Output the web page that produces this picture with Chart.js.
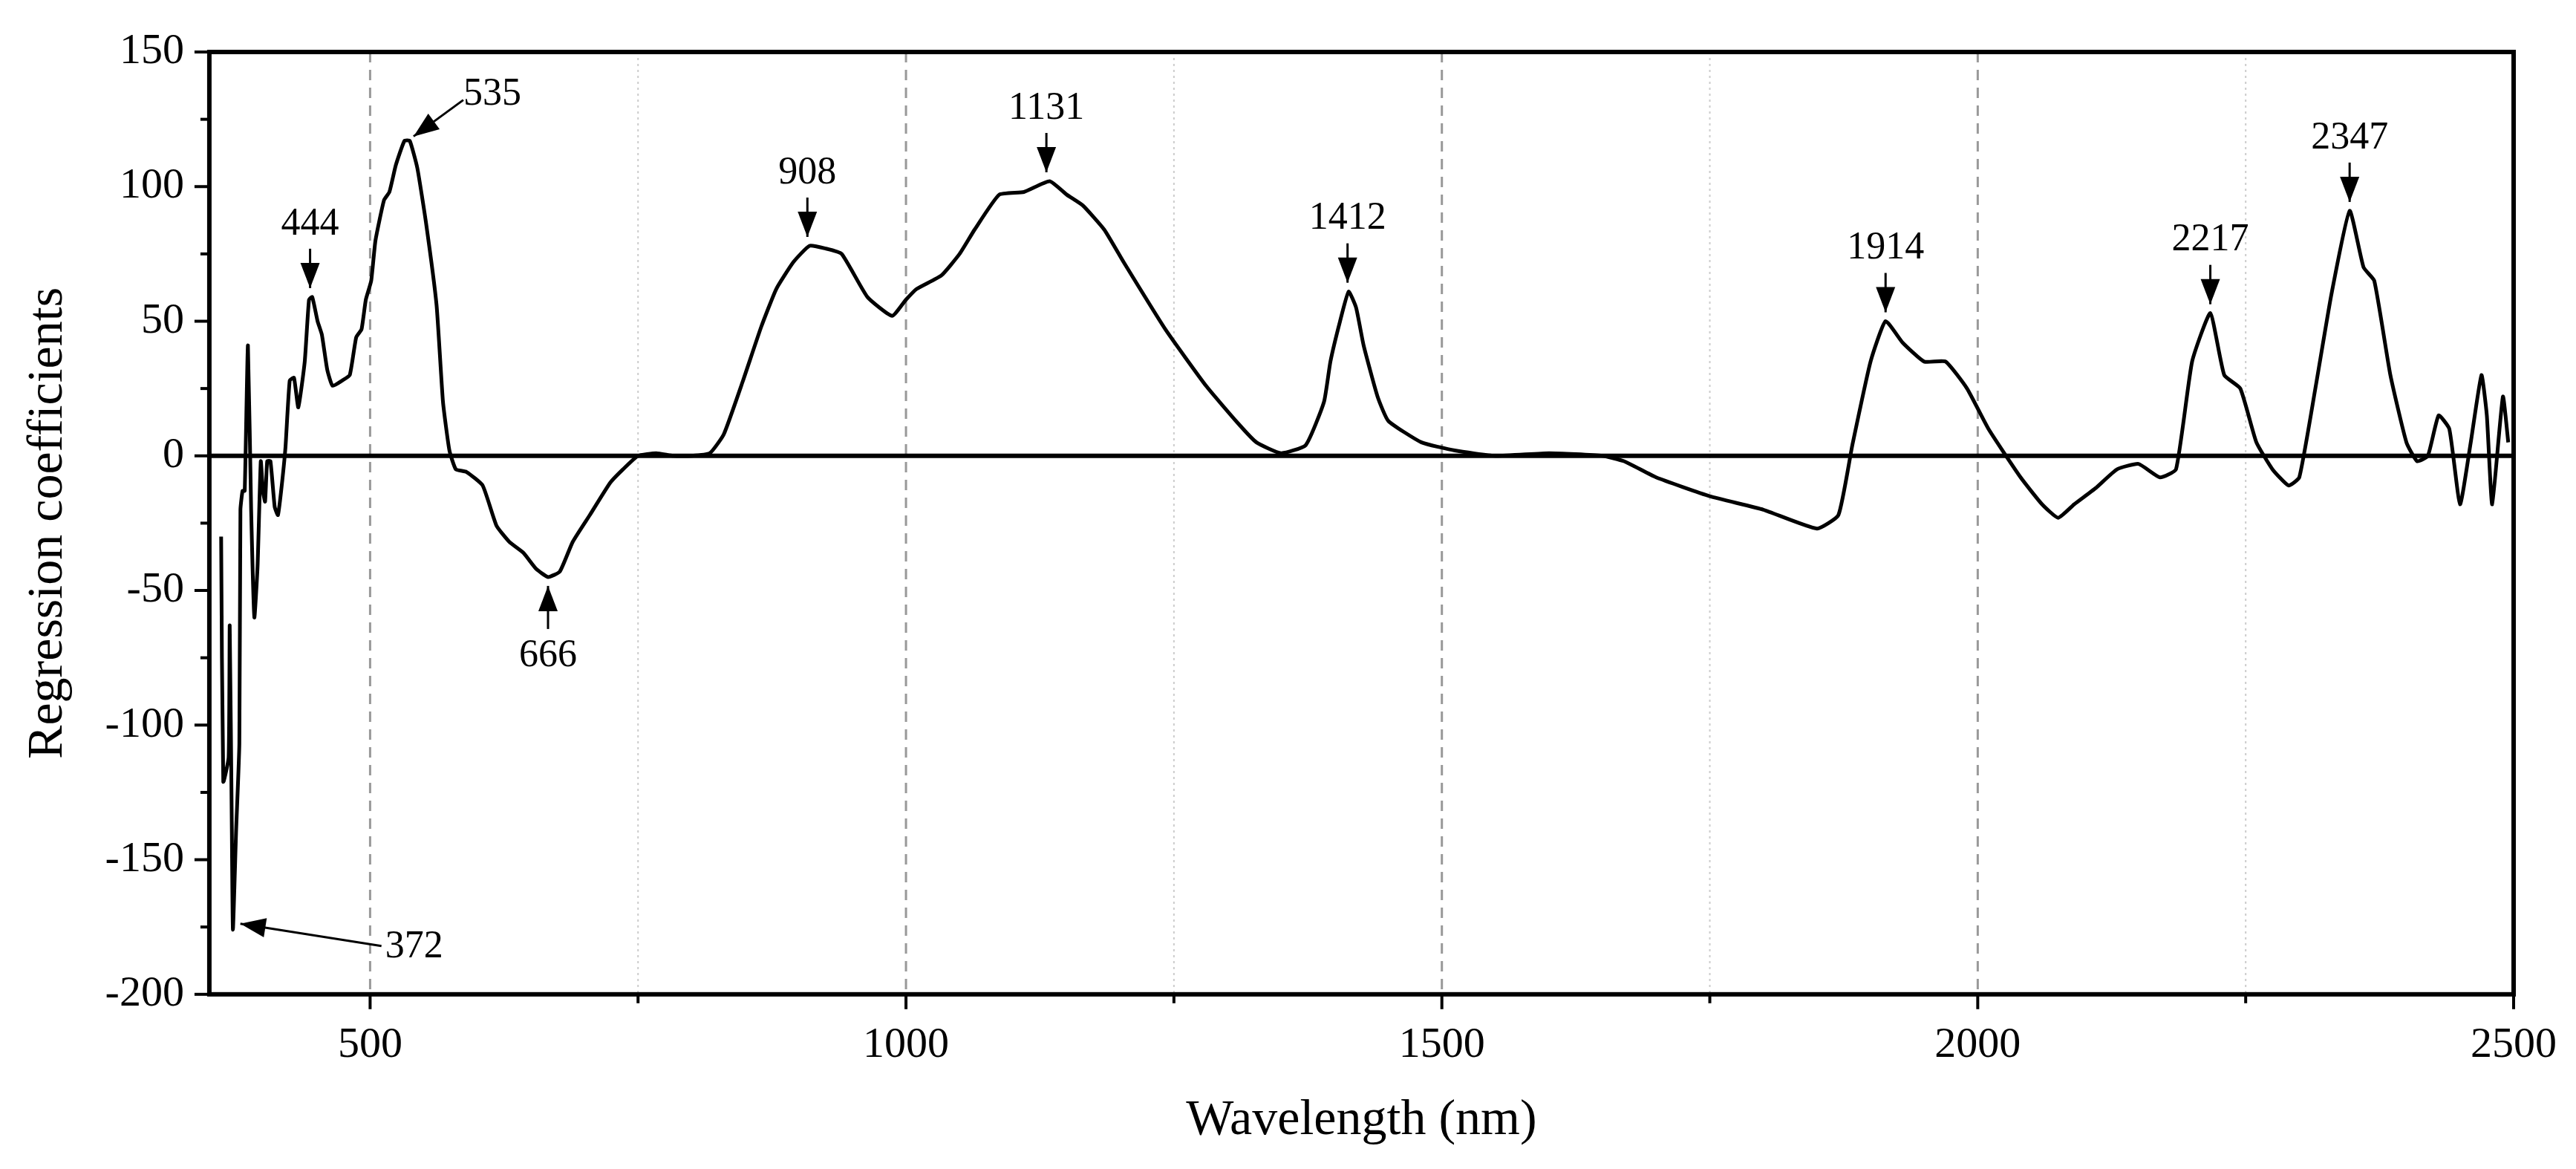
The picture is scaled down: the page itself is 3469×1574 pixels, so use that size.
<!DOCTYPE html>
<html><head><meta charset="utf-8">
<script src="https://cdn.jsdelivr.net/npm/chart.js@4.4.0/dist/chart.umd.min.js"></script>
<style>html,body{margin:0;background:#fff}#w{width:3469px;height:1574px}</style>
</head><body><div id="w"><canvas id="c"></canvas></div>
<script>
const wavelengths = [361,363,368,369,371,372,375,378,379,381,383,386,389,392,395,398,400,402,404,407,411,414,417,421,425,429,433,439,443,446,451,455,460,465,474,481,487,492,496,501,505,513,518,524,532,537,544,552,562,568,574,580,590,605,618,630,643,655,666,677,689,705,724,736,750,767,783,800,817,830,848,865,879,895,910,925,940,964,987,1000,1010,1033,1050,1064,1087,1110,1134,1150,1165,1185,1203,1242,1280,1310,1327,1350,1373,1390,1396,1405,1413,1420,1427,1440,1450,1481,1512,1550,1600,1650,1670,1700,1750,1800,1850,1870,1883,1900,1914,1930,1950,1970,1990,2010,2040,2060,2075,2090,2110,2130,2150,2170,2185,2200,2217,2230,2245,2260,2275,2290,2300,2315,2330,2347,2360,2370,2385,2400,2410,2420,2430,2440,2450,2460,2470,2475,2480,2490,2495];
const coefficients = [-30,-121,-112,-63,-139,-176,-139,-107,-20,-13,-13,41,-20,-60,-41,-2,-13,-17,-2,-2,-19,-22,-13,3,28,29,18,35,58,59,50,45,32,26,28,30,44,47,58,65,80,95,98,108,117,117,107,87,56,20,2,-5,-6,-11,-26,-32,-36,-42,-45,-43,-32,-22,-10,-5,0,1,0,0,1,8,28,48,62,72,78,77,75,59,52,58,62,67,75,84,97,98,102,97,93,84,72,47,26,12,5,1,4,20,35,50,61,55,41,22,13,5,2,0,1,0,-2,-8,-15,-20,-27,-22,4,35,50,42,35,35,25,10,-8,-18,-23,-18,-12,-5,-3,-8,-5,35,53,30,25,5,-5,-11,-8,25,60,91,70,65,30,5,-2,0,15,10,-18,5,30,15,-18,22,5];
const xTicks = [500,750,1000,1250,1500,1750,2000,2250,2500];
const yTicks = [-200,-175,-150,-125,-100,-75,-50,-25,0,25,50,75,100,125,150];
const peakLabels = ['372','444','535','666','908','1131','1412','1914','2217','2347'];
const peakX = [372,444,535,666,908,1131,1412,1914,2217,2347];
const peakY = [-176,59,117,-45,78,102,61,50,53,91];

const F = 'Liberation Serif';
const annot = {
  id:'annot',
  beforeDatasetsDraw(ch){
    const {ctx,chartArea:a,scales:{x,y}}=ch;
    ctx.save();
    xTicks.forEach(v=>{
      if(v<=350||v>=2500) return;
      const px=x.getPixelForValue(v);
      ctx.beginPath();
      const major=v%500===0;
      ctx.strokeStyle=major?'#999':'#ccc';
      ctx.lineWidth=major?3:2;
      ctx.setLineDash(major?[14,10]:[3,5]);
      ctx.moveTo(px,a.top);ctx.lineTo(px,a.bottom);ctx.stroke();
    });
    ctx.setLineDash([]);
    const z=y.getPixelForValue(0);
    ctx.strokeStyle='#000';ctx.lineWidth=6;
    ctx.beginPath();ctx.moveTo(a.left,z);ctx.lineTo(a.right,z);ctx.stroke();
    ctx.restore();
  },
  afterDatasetsDraw(ch){
    const {ctx,chartArea:a,scales:{x,y}}=ch;
    ctx.save();
    ctx.strokeStyle='#000';ctx.lineWidth=6;
    ctx.strokeRect(a.left,a.top,a.right-a.left,a.bottom-a.top);
    ctx.lineWidth=4;
    xTicks.forEach(v=>{const px=x.getPixelForValue(v);const L=v%500===0?20:12;
      ctx.beginPath();ctx.moveTo(px,a.bottom);ctx.lineTo(px,a.bottom+L);ctx.stroke();});
    yTicks.forEach(v=>{const py=y.getPixelForValue(v);const L=v%50===0?20:12;
      ctx.beginPath();ctx.moveTo(a.left,py);ctx.lineTo(a.left-L,py);ctx.stroke();});
    ctx.fillStyle='#000';ctx.font='52px "'+F+'"';
    const arrow=(x1,y1,x2,y2)=>{
      ctx.beginPath();ctx.moveTo(x1,y1);ctx.lineTo(x2,y2);ctx.lineWidth=3;ctx.stroke();
      const ang=Math.atan2(y2-y1,x2-x1),h=34,w=13;
      ctx.beginPath();ctx.moveTo(x2,y2);
      ctx.lineTo(x2-h*Math.cos(ang)+w*Math.sin(ang),y2-h*Math.sin(ang)-w*Math.cos(ang));
      ctx.lineTo(x2-h*Math.cos(ang)-w*Math.sin(ang),y2-h*Math.sin(ang)+w*Math.cos(ang));
      ctx.closePath();ctx.fill();
    };
    peakLabels.forEach((t,i)=>{
      const px=x.getPixelForValue(peakX[i]),py=y.getPixelForValue(peakY[i]);
      ctx.textAlign='center';
      if(t==='372'){arrow(px+200,py+22,px+10,py-8);ctx.textAlign='left';ctx.textBaseline='middle';ctx.fillText(t,px+205,py+24);}
      else if(t==='535'){arrow(px+75,py-55,px+8,py-6);ctx.textAlign='left';ctx.textBaseline='middle';ctx.fillText(t,px+75,py-62);}
      else if(t==='666'){arrow(px,py+70,px,py+12);ctx.textBaseline='top';ctx.fillText(t,px,py+80);}
      else {arrow(px,py-65,px,py-12);ctx.textBaseline='bottom';ctx.fillText(t,px,py-72);}
    });
    ctx.restore();
  }
};

new Chart(document.getElementById('c'),{
  type:'line',
  data:{datasets:[{data:wavelengths.map((w,i)=>({x:w,y:coefficients[i]})),borderColor:'#000',borderWidth:5,pointRadius:0,tension:0.15,fill:false}]},
  options:{
    responsive:true,maintainAspectRatio:false,animation:false,
    layout:{padding:{left:20,right:80,top:70,bottom:20}},
    plugins:{legend:{display:false},tooltip:{enabled:false}},
    scales:{
      x:{type:'linear',min:350,max:2500,
        afterBuildTicks:s=>{s.ticks=xTicks.map(v=>({value:v}));},
        grid:{display:false},border:{display:false},
        ticks:{padding:26,color:'#000',font:{family:F,size:58},callback:v=>v%500===0?String(v):'',maxRotation:0,autoSkip:false},
        title:{display:true,text:'Wavelength (nm)',color:'#000',font:{family:F,size:68},padding:{top:0}}},
      y:{min:-200,max:150,
        afterBuildTicks:s=>{s.ticks=yTicks.map(v=>({value:v}));},
        grid:{display:false},border:{display:false},
        ticks:{padding:26,color:'#000',font:{family:F,size:58},callback:v=>v%50===0?String(v):'',autoSkip:false},
        title:{display:true,text:'Regression coefficients',color:'#000',font:{family:F,size:68},padding:{bottom:10}}}
    }
  },
  plugins:[annot]
});
</script></body></html>
